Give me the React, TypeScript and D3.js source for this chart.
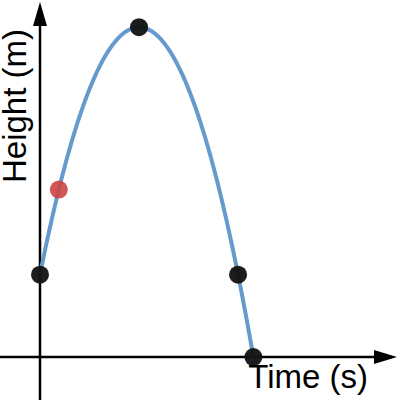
import React from "react";
import * as d3 from "d3";

// Height h(t) = c0 + c1 t + c2 t^2
const coefficients = [1, 6, -3];
const tDomain = [0, 4.11];
const hDomain = [-0.52, 4.33];
const blackPointTimes = [0, 1, 2, 2.1547];
const redPointTimes = [0.19];
const xLabel = "Time (s)";
const yLabel = "Height (m)";

const h = (t: number) => coefficients[0] + coefficients[1] * t + coefficients[2] * t * t;

export default function App() {
  const W = 400, H = 400;
  const x = d3.scaleLinear().domain(tDomain).range([40, 447]);
  const y = d3.scaleLinear().domain(hDomain).range([400, 0]);
  const x0 = x(0), y0 = y(0);
  const tEnd = blackPointTimes[blackPointTimes.length - 1];
  const samples = d3.range(0, 201).map((i) => (tEnd * i) / 200);
  const line = d3.line<number>().x((t) => x(t)).y((t) => y(h(t))).curve(d3.curveLinear);
  return (
    <svg width={W} height={H} style={{ position: "absolute", left: 0, top: 0 }}>
      <rect width={W} height={H} fill="#fff" />
      {/* axes */}
      <line x1={0} x2={380} y1={y0} y2={y0} stroke="#000" strokeWidth={2.5} />
      <line x1={x0} x2={x0} y1={400} y2={20} stroke="#000" strokeWidth={2.5} />
      <path d={`M397,${y0} L374,${y0 - 7} L374,${y0 + 7} Z`} fill="#000" />
      <path d={`M${x0},2 L${x0 - 7},26 L${x0 + 7},26 Z`} fill="#000" />
      <path d={line(samples) || ""} fill="none" stroke="#6699cc" strokeWidth={4} />
      {blackPointTimes.map((t, i) => (
        <circle key={i} cx={x(t)} cy={y(h(t))} r={9} fill="#111" fillOpacity={0.95} />
      ))}
      {redPointTimes.map((t, i) => (
        <circle key={i} cx={x(t)} cy={y(h(t))} r={9} fill="#cc4444" fillOpacity={0.9} />
      ))}
      <text x={368} y={388} textAnchor="end" fontFamily="Liberation Sans, Arial, sans-serif" fontSize={33} fill="#000">
        {xLabel}
      </text>
      <text
        transform={`translate(26,106) rotate(-90)`}
        textAnchor="middle"
        fontFamily="Liberation Sans, Arial, sans-serif"
        fontSize={33}
        fill="#000"
      >
        {yLabel}
      </text>
    </svg>
  );
}
